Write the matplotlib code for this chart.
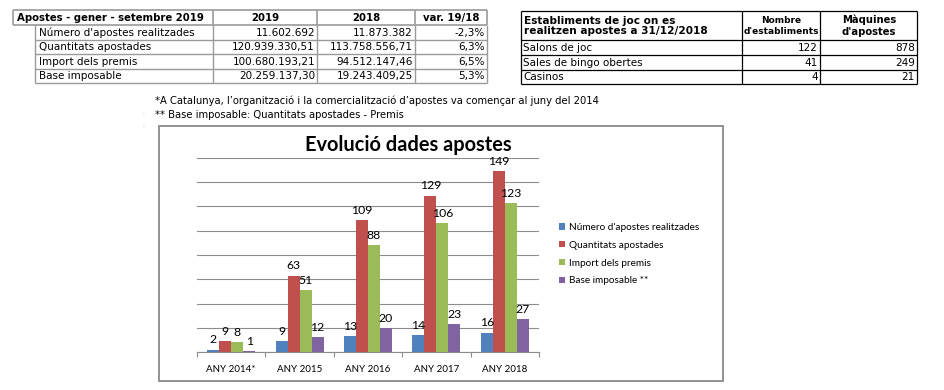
import matplotlib
matplotlib.use("Agg")
import matplotlib.pyplot as plt
import numpy as np
from matplotlib.patches import Rectangle

# ---------------- data ----------------
categories = ["ANY 2014*", "ANY 2015", "ANY 2016", "ANY 2017", "ANY 2018"]
series_names = ["Número d'apostes realitzades", "Quantitats apostades",
                "Import dels premis", "Base imposable **"]
numero = [2, 9, 13, 14, 16]
quantitats = [9, 63, 109, 129, 149]
import_premis = [8, 51, 88, 106, 123]
base_imposable = [1, 12, 20, 23, 27]
series_colors = ["#4F81BD", "#C0504D", "#9BBB59", "#8064A2"]

t1_header = ["Apostes - gener - setembre 2019", "2019", "2018", "var. 19/18"]
t1_rows = ["Número d'apostes realitzades", "Quantitats apostades",
           "Import dels premis", "Base imposable"]
t1_2019 = ["11.602.692", "120.939.330,51", "100.680.193,21", "20.259.137,30"]
t1_2018 = ["11.873.382", "113.758.556,71", "94.512.147,46", "19.243.409,25"]
t1_var = ["-2,3%", "6,3%", "6,5%", "5,3%"]

t2_header = ["Establiments de joc on es\nrealitzen apostes a 31/12/2018",
             "Nombre\nd'establiments", "Màquines\nd'apostes"]
t2_rows = ["Salons de joc", "Sales de bingo obertes", "Casinos"]
t2_establiments = [122, 41, 4]
t2_maquines = [878, 249, 21]

note1 = "*A Catalunya, l\u2019organització i la comercialització d\u2019apostes va començar al juny del 2014"
note2 = "** Base imposable: Quantitats apostades - Premis"
title = "Evolució dades apostes"

# ---------------- figure ----------------
W, H = 944, 390
fig = plt.figure(figsize=(W / 100, H / 100), dpi=100)

ov = fig.add_axes([0, 0, 1, 1], zorder=0)
ov.set_xlim(0, W)
ov.set_ylim(H, 0)
ov.axis("off")

tfont = "DejaVu Sans"
fs_t = 7.5
gray = "#9a9a9a"

def hline(x0, x1, y, c, lw=0.9):
    ov.plot([x0, x1], [y, y], color=c, lw=lw, solid_capstyle="butt")

def vline(x, y0, y1, c, lw=0.9):
    ov.plot([x, x], [y0, y1], color=c, lw=lw, solid_capstyle="butt")

# ---- left table ----
L_hx = [13, 213, 317, 415, 487]
L_rx = 35
L_hy = (10, 25)
L_ry = [25, 39.5, 54, 68.5, 83]
hline(L_hx[0], L_hx[-1], L_hy[0], gray, 1.2)
hline(L_hx[0], L_hx[-1], L_hy[1], gray, 1.2)
for xx in L_hx:
    vline(xx, L_hy[0], L_hy[1], gray, 1.2)
ov.text(17, (L_hy[0] + L_hy[1]) / 2 + 0.5, t1_header[0], family=tfont, fontsize=7.3,
        fontweight="bold", ha="left", va="center")
for j in range(1, 4):
    ov.text((L_hx[j] + L_hx[j + 1]) / 2, (L_hy[0] + L_hy[1]) / 2 + 0.5, t1_header[j],
            family=tfont, fontsize=7.3, fontweight="bold", ha="center", va="center")
for y in L_ry[1:]:
    hline(L_rx, L_hx[-1], y, gray, 1.0)
for xx in [L_rx] + L_hx[1:]:
    vline(xx, L_ry[0], L_ry[-1], gray, 1.0)
for i in range(len(t1_rows)):
    yc = (L_ry[i] + L_ry[i + 1]) / 2 + 0.5
    ov.text(L_rx + 4, yc, t1_rows[i], family=tfont, fontsize=fs_t, ha="left", va="center")
    ov.text(L_hx[2] - 2, yc, t1_2019[i], family=tfont, fontsize=fs_t, ha="right", va="center")
    ov.text(L_hx[3] - 2, yc, t1_2018[i], family=tfont, fontsize=fs_t, ha="right", va="center")
    ov.text(L_hx[4] - 2, yc, t1_var[i], family=tfont, fontsize=fs_t, ha="right", va="center")

# ---- right table ----
R_x = [521, 742, 820, 917]
R_y = [11, 40, 55, 70, 84]
for y in R_y:
    hline(R_x[0], R_x[-1], y, "black", 0.9)
for xx in R_x:
    vline(xx, R_y[0], R_y[-1], "black", 0.9)
ov.text(R_x[0] + 3, (R_y[0] + R_y[1]) / 2 + 0.5, t2_header[0], family=tfont, fontsize=7.6,
        fontweight="bold", ha="left", va="center", linespacing=1.1)
hsizes = {1: 6.5, 2: 7.2}
for j in (1, 2):
    ov.text((R_x[j] + R_x[j + 1]) / 2 + 0.5, (R_y[0] + R_y[1]) / 2 + 0.5, t2_header[j],
            family=tfont, fontsize=hsizes[j], fontweight="bold", ha="center", va="center",
            linespacing=1.2)
for i in range(len(t2_rows)):
    yc = (R_y[i + 1] + R_y[i + 2]) / 2 + 0.5
    ov.text(R_x[0] + 2, yc, t2_rows[i], family=tfont, fontsize=fs_t, ha="left", va="center")
    ov.text(R_x[2] - 2, yc, str(t2_establiments[i]), family=tfont, fontsize=fs_t,
            ha="right", va="center")
    ov.text(R_x[3] - 2, yc, str(t2_maquines[i]), family=tfont, fontsize=fs_t,
            ha="right", va="center")

# ---- notes ----
ov.text(155, 101, note1, family=tfont, fontsize=7.2, ha="left", va="center")
ov.text(155, 115, note2, family=tfont, fontsize=7.2, ha="left", va="center")
ov.text(143, 115, ":", family=tfont, fontsize=4, ha="center", va="center", color="#888888")
ov.text(143, 127, ":", family=tfont, fontsize=4, ha="center", va="center", color="#888888")

# ---- chart frame ----
ov.add_patch(Rectangle((159, 126), 723 - 159, 381 - 126, fill=False,
                       edgecolor="#8a8a8a", lw=1.3))
ov.text(408, 145, title, family="Lato", fontsize=14.4, fontweight="bold",
        ha="center", va="center")

# ---- bar chart ----
ax_l, ax_r, ax_t, ax_b = 197, 539, 158, 352
ax = fig.add_axes([ax_l / W, 1 - ax_b / H, (ax_r - ax_l) / W, (ax_b - ax_t) / H], zorder=2)
ax.patch.set_alpha(0)
x = np.arange(len(categories))
w = 0.175
all_series = [numero, quantitats, import_premis, base_imposable]
handles = []
for k, (vals, col, name) in enumerate(zip(all_series, series_colors, series_names)):
    bars = ax.bar(x + (k - 1.5) * w, vals, width=w, color=col, label=name, zorder=3)
    handles.append(bars)
    for xi, v in zip(x + (k - 1.5) * w, vals):
        ax.text(xi, v + 3.5, str(v), ha="center", va="bottom", fontsize=8.8,
                family="Lato", zorder=4)

ax.set_xlim(-0.5, len(categories) - 0.5)
ax.set_ylim(0, 160)
ax.set_yticks(np.arange(0, 161, 20))
ax.yaxis.grid(True, color="#8c8c8c", lw=0.8)
ax.set_axisbelow(True)
ax.tick_params(axis="y", left=False, labelleft=False)
for s in ["left", "right", "top"]:
    ax.spines[s].set_visible(False)
ax.spines["bottom"].set_color("#8c8c8c")
ax.spines["bottom"].set_linewidth(0.8)
ax.set_xticks(x)
ax.set_xticklabels(categories, family="Lato", fontsize=7.0)
ax.tick_params(axis="x", which="major", length=0, pad=9)
ax.set_xticks(np.arange(-0.5, len(categories), 1.0), minor=True)
ax.tick_params(axis="x", which="minor", length=3.5, color="#8c8c8c", width=0.8)

leg = ax.legend(handles=handles, loc="upper left", bbox_to_anchor=(559 / W, 1 - 223 / H),
                bbox_transform=fig.transFigure, frameon=False,
                prop={"family": "Lato", "size": 7.2}, handlelength=0.6, handleheight=0.6,
                handletextpad=0.4, labelspacing=0.88, borderaxespad=0, borderpad=0)

fig.savefig("out.png", dpi=100)
